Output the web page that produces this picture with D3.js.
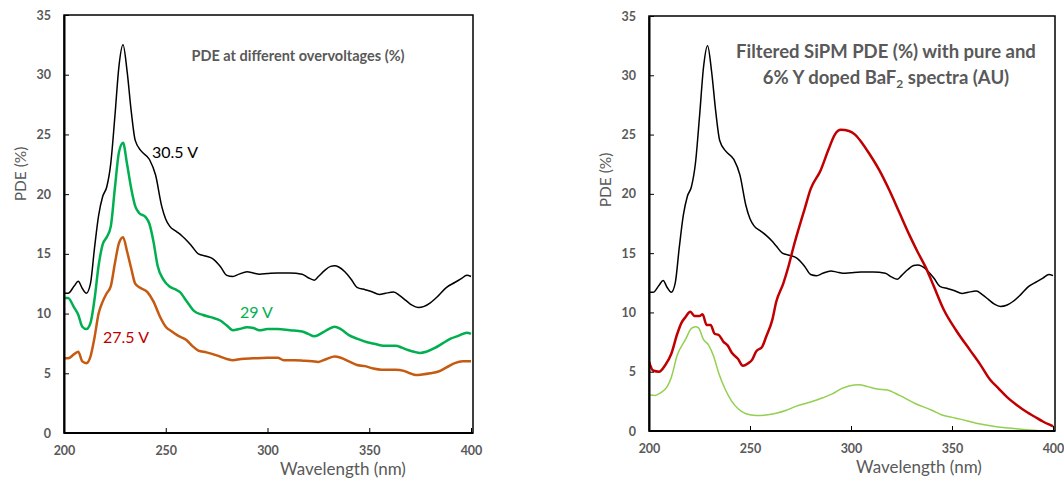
<!doctype html>
<html>
<head>
<meta charset="utf-8" />
<title>PDE vs wavelength</title>
<script src="https://cdn.jsdelivr.net/npm/d3@7"></script>
<style>
    body { margin: 0; background: #fff; }
    svg text { font-family: Lato, "Open Sans", sans-serif; }
    .axis text { font-size: 12.5px; font-weight: bold; fill: #595959; }
    .axis path, .axis line { stroke: #000; }
</style>
</head>
<body>
<svg id="chart" width="1064" height="483"></svg>
<script>
// wavelength (nm) / value pairs
var pde305 = [
    [200,11.7],[202,11.7],[205,12.3],[207,12.7],[209,12.1],[211,11.7],[213,12.5],[215,15.5],
    [217,18.2],[219,19.8],[221,20.6],[223,22.6],[225,26.5],[227,30.7],[229,32.5],[231,30.3],
    [233,27.0],[235,24.5],[238,23.6],[242,22.9],[245,21.6],[248,19.0],[250,17.9],[252,17.3],
    [255,16.9],[258,16.5],[261,16.0],[263,15.6],[266,15.0],[270,14.8],[273,14.6],[277,13.9],
    [280,13.2],[283,13.1],[286,13.3],[290,13.5],[293,13.4],[296,13.3],[300,13.35],[305,13.4],
    [311,13.4],[317,13.3],[320,13.0],[323,12.8],[325,13.1],[328,13.6],[331,13.95],[333,14.0],
    [335,13.9],[338,13.5],[341,12.9],[344,12.2],[348,12.0],[351,11.85],[355,11.6],[358,11.7],
    [362,11.8],[365,11.5],[368,11.1],[371,10.7],[374,10.5],[377,10.6],[380,10.9],[384,11.5],
    [388,12.2],[392,12.6],[395,12.9],[398,13.2],[400,13.1]
];
var pde29 = [
    [200,11.3],[202,11.3],[205,10.5],[207,9.9],[209,8.9],[211,8.7],[213,9.2],[215,11.2],
    [217,14.0],[219,15.8],[221,16.4],[223,17.3],[225,20.5],[227,23.5],[229,24.3],[231,22.5],
    [233,20.5],[235,19.0],[237,18.4],[240,18.1],[242,17.5],[244,16.0],[246,14.0],[249,12.8],
    [252,12.25],[255,12.0],[257,11.8],[260,11.1],[264,10.2],[268,9.9],[272,9.7],[277,9.4],
    [280,9.0],[283,8.6],[286,8.7],[290,8.85],[293,8.8],[296,8.6],[300,8.7],[305,8.7],
    [311,8.6],[317,8.5],[320,8.3],[323,8.1],[327,8.4],[330,8.7],[333,8.9],[336,8.7],
    [340,8.2],[344,7.9],[349,7.6],[353,7.45],[357,7.3],[363,7.3],[366,7.15],[369,6.95],
    [372,6.8],[375,6.7],[378,6.8],[382,7.1],[386,7.5],[390,7.9],[394,8.15],[398,8.4],[400,8.3]
];
var pde275 = [
    [200,6.25],[202,6.25],[205,6.6],[207,6.8],[209,6.0],[211,5.85],[213,6.4],[215,8.0],
    [217,10.0],[219,11.0],[221,11.7],[223,12.3],[225,14.2],[227,15.9],[229,16.4],[231,15.2],
    [233,13.8],[235,12.5],[237,12.2],[241,11.8],[244,11.0],[247,9.8],[250,8.9],[253,8.5],
    [256,8.15],[260,7.8],[263,7.3],[266,6.9],[270,6.75],[275,6.5],[280,6.2],[283,6.1],
    [287,6.2],[293,6.25],[300,6.3],[305,6.3],[308,6.1],[313,6.1],[318,6.05],[322,6.0],
    [325,5.95],[329,6.2],[333,6.4],[336,6.3],[340,6.0],[344,5.7],[348,5.6],[352,5.4],
    [356,5.3],[363,5.3],[367,5.2],[370,5.0],[373,4.85],[376,4.9],[380,5.0],[384,5.15],
    [388,5.5],[392,5.85],[396,6.0],[400,6.0]
];
var pureBaF2 = [
    [200,5.85],[202,5.1],[205,5.0],[208,5.55],[211,6.5],[214,8.2],[216,9.1],[218,9.6],
    [220.5,10.05],[222.5,9.7],[225,9.7],[226.5,9.85],[228.5,8.95],[230.5,8.95],[232.5,8.2],
    [234.5,8.1],[237,7.5],[239,7.2],[241,6.6],[244,6.1],[246.5,5.5],[249,5.7],[251,6.0],
    [253,6.7],[256,7.1],[258,7.95],[261,9.35],[263,10.9],[266.5,12.45],[269,13.85],
    [271.5,15.5],[274,17.0],[277,18.7],[280,20.4],[285,22.0],[289,23.8],[292,25.0],
    [295,25.4],[299,25.3],[302,25.0],[305,24.4],[309,23.4],[314,22.0],[319,20.3],[324,18.4],
    [329,16.5],[333,15.1],[337,13.8],[341,12.2],[346,10.2],[352,8.5],[359,6.8],[364,5.6],
    [369,4.3],[373,3.6],[377,2.9],[382,2.2],[387,1.6],[391,1.2],[395,0.8],[398,0.55],[400,0.4]
];
var dopedBaF2 = [
    [200,3.05],[203,3.0],[205.5,3.2],[209,3.75],[211,4.5],[214,6.4],[218,7.7],[221,8.65],
    [223,8.8],[224.5,8.7],[227,7.7],[229.5,7.25],[232,6.3],[234.5,4.9],[237.5,3.6],[241,2.5],
    [244,1.9],[248,1.45],[253,1.3],[258,1.35],[263,1.5],[268,1.75],[273,2.1],[280,2.45],
    [286,2.8],[291,3.15],[295,3.55],[299,3.8],[304,3.9],[308,3.75],[313,3.55],[318,3.45],
    [324,3.0],[332,2.3],[340,1.75],[345,1.35],[350,1.15],[354,1.0],[362,0.65],[372,0.36],
    [378,0.25],[384,0.15],[392,0.05],[400,0.0]
];
var xTicks = [200, 250, 300, 350, 400];
var yTicks = [0, 5, 10, 15, 20, 25, 30, 35];

var svg = d3.select('#chart');

function drawPanel(p) {
    var x = d3.scaleLinear().domain([200, 400]).range([p.left, p.right]);
    var y = d3.scaleLinear().domain([0, 35]).range([p.bottom, p.top]);

    // frame (top / right)
    svg.append('rect')
        .attr('x', p.left).attr('y', p.top)
        .attr('width', p.boxRight - p.left).attr('height', p.bottom - p.top)
        .attr('fill', 'none').attr('stroke', '#000').attr('stroke-width', 1.5);

    var line = d3.line()
        .x(function(d) { return x(d[0]); })
        .y(function(d) { return y(d[1]); })
        .curve(d3.curveMonotoneX);

    p.series.forEach(function(s) {
        svg.append('path')
            .datum(s.data)
            .attr('d', line)
            .attr('fill', 'none')
            .attr('stroke', s.color)
            .attr('stroke-width', s.width)
            .attr('stroke-linejoin', 'round');
    });

    svg.append('g')
        .attr('class', 'axis')
        .attr('transform', 'translate(' + p.left + ',0)')
        .call(d3.axisLeft(y).tickValues(yTicks).tickSizeInner(-5).tickSizeOuter(0).tickPadding(13))
        .call(function(g) { g.select('.domain').attr('stroke-width', 2); });

    svg.append('g')
        .attr('class', 'axis')
        .attr('transform', 'translate(0,' + p.bottom + ')')
        .call(d3.axisBottom(x).tickValues(xTicks).tickSizeInner(-5).tickSizeOuter(0).tickPadding(13))
        .call(function(g) {
            g.select('.domain').attr('d', 'M' + p.left + ',0H' + p.boxRight).attr('stroke-width', 2);
        });

    svg.append('text')
        .attr('x', p.xLabelX).attr('y', p.bottom + 42)
        .attr('text-anchor', 'middle')
        .attr('font-size', 17).attr('fill', '#595959')
        .text('Wavelength (nm)');

    svg.append('text')
        .attr('transform', 'translate(' + (p.left - 38) + ',' + p.yLabelY + ') rotate(-90)')
        .attr('text-anchor', 'middle')
        .attr('font-size', 15.5).attr('fill', '#595959')
        .text('PDE (%)');
}

drawPanel({
    left: 64, right: 471, boxRight: 473, top: 15, bottom: 433,
    xLabelX: 343, yLabelY: 174,
    series: [
        {data: pde305, color: '#000000', width: 1.5},
        {data: pde29, color: '#00b050', width: 2.5},
        {data: pde275, color: '#c55a11', width: 2.5}
    ]
});

drawPanel({
    left: 649, right: 1053, boxRight: 1055, top: 16, bottom: 431,
    xLabelX: 919, yLabelY: 180,
    series: [
        {data: pde305, color: '#000000', width: 1.5},
        {data: pureBaF2, color: '#c00000', width: 2.5},
        {data: dopedBaF2, color: '#92d050', width: 1.5}
    ]
});

// left panel annotations
svg.append('text').attr('x', 298).attr('y', 61).attr('text-anchor', 'middle')
    .attr('font-size', 14.5).attr('font-weight', 'bold').attr('fill', '#595959')
    .text('PDE at different overvoltages (%)');
svg.append('text').attr('x', 152).attr('y', 158).attr('font-size', 16).attr('fill', '#000').text('30.5 V');
svg.append('text').attr('x', 240).attr('y', 318).attr('font-size', 16).attr('fill', '#00b050').text('29 V');
svg.append('text').attr('x', 103).attr('y', 343).attr('font-size', 16).attr('fill', '#c00000').text('27.5 V');

// right panel title
var t2 = svg.append('g').attr('font-size', 18.5).attr('font-weight', 'bold').attr('fill', '#595959');
t2.append('text').attr('x', 886).attr('y', 58).attr('text-anchor', 'middle')
    .text('Filtered SiPM PDE (%) with pure and');
var l2 = t2.append('text').attr('x', 886).attr('y', 84).attr('text-anchor', 'middle');
l2.append('tspan').text('6% Y doped BaF');
l2.append('tspan').attr('font-size', 12).attr('dy', 4).text('2');
l2.append('tspan').attr('dy', -4).text(' spectra (AU)');
</script>
</body>
</html>
